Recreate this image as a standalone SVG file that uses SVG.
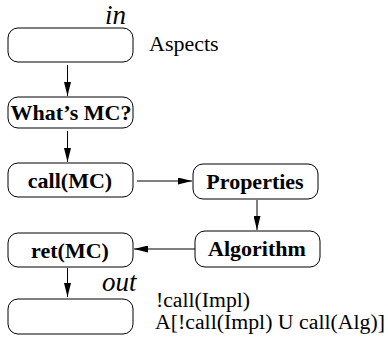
<svg xmlns="http://www.w3.org/2000/svg" width="388" height="341" viewBox="0 0 388 341">
<defs>
<marker id="ah" viewBox="0 0 14 7" refX="14" refY="3.5" markerWidth="14" markerHeight="7" markerUnits="userSpaceOnUse" orient="auto">
<path d="M0,0 L14,3.5 L0,7 Z" fill="#000"/>
</marker>
<style>
.box{fill:#fff;stroke:#000;stroke-width:1}
.lbl{font-family:"Liberation Serif","Times New Roman",serif;font-weight:bold;font-size:22px;text-anchor:middle;fill:#000}
.txt{font-family:"Liberation Serif","Times New Roman",serif;font-size:22px;fill:#000}
.frm{font-family:"Liberation Serif","Times New Roman",serif;font-size:20px;fill:#000}
.it{font-family:"Liberation Serif","Times New Roman",serif;font-style:italic;font-size:27px;fill:#000}
.con{stroke:#000;stroke-width:1;fill:none;marker-end:url(#ah)}
</style>
</defs>
<rect width="388" height="341" fill="#fff"/>
<g id="connectors">
<line class="con" x1="67.5" y1="65" x2="67.5" y2="96"/>
<line class="con" x1="67.5" y1="131" x2="67.5" y2="162"/>
<line class="con" x1="137" y1="181" x2="192" y2="181"/>
<line class="con" x1="257" y1="200" x2="257" y2="230"/>
<line class="con" x1="195" y1="249" x2="134" y2="249"/>
<line class="con" x1="67.5" y1="268" x2="67.5" y2="297"/>
</g>
<g id="in-node">
<rect class="box" x="8" y="28" width="125" height="34" rx="10"/>
<text class="it" x="105" y="24">in</text>
</g>
<g id="aspects-label">
<text class="txt" x="149" y="51">Aspects</text>
</g>
<g id="whats-mc">
<rect class="box" x="8" y="97" width="125" height="31" rx="10"/>
<text class="lbl" x="71" y="120">What’s MC?</text>
</g>
<g id="call-mc">
<rect class="box" x="8" y="163" width="125" height="34" rx="10"/>
<text class="lbl" x="70" y="188">call(MC)</text>
</g>
<g id="properties">
<rect class="box" x="193" y="164" width="125" height="35" rx="10"/>
<text class="lbl" x="255" y="189">Properties</text>
</g>
<g id="algorithm">
<rect class="box" x="195" y="231" width="125" height="36" rx="10"/>
<text class="lbl" x="257" y="256">Algorithm</text>
</g>
<g id="ret-mc">
<rect class="box" x="8" y="233" width="125" height="34" rx="10"/>
<text class="lbl" x="70" y="258">ret(MC)</text>
</g>
<g id="out-node">
<rect class="box" x="8" y="299" width="125" height="35" rx="10"/>
<text class="it" x="102" y="291">out</text>
</g>
<g id="formula">
<text class="frm" x="156" y="307" textLength="94" lengthAdjust="spacingAndGlyphs">!call(Impl)</text>
<text class="frm" x="155" y="329" textLength="230" lengthAdjust="spacingAndGlyphs">A[!call(Impl) U call(Alg)]</text>
</g>
</svg>
